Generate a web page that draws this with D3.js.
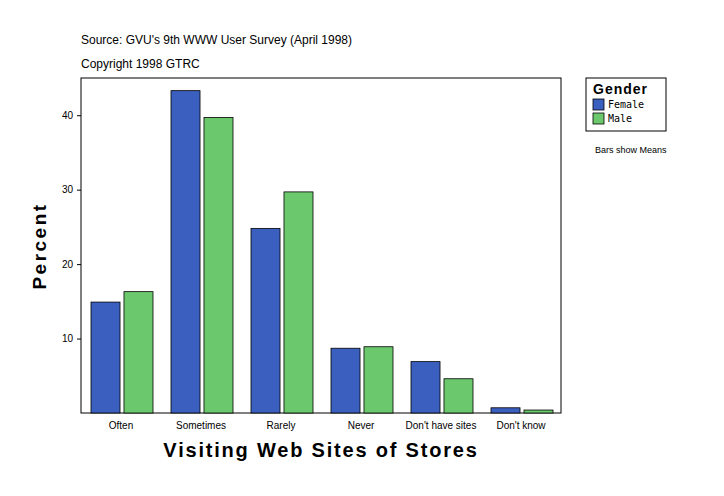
<!DOCTYPE html>
<html><head><meta charset="utf-8">
<script src="https://cdn.jsdelivr.net/npm/d3@7"></script>
<style>body{margin:0;background:#fff}text{font-family:Arial,"Liberation Sans",sans-serif}text.mono{font-family:"DejaVu Sans Mono","Liberation Mono",monospace}</style>
</head><body><svg id="chart" width="724" height="496"></svg>
<script>
const categories = ["Often", "Sometimes", "Rarely", "Never", "Don't have sites", "Don't know"];
const series = ["Female", "Male"];
const female = [14.9, 43.3, 24.8, 8.7, 6.9, 0.7];
const male = [16.3, 39.7, 29.7, 8.9, 4.6, 0.4];
const yTicks = [10, 20, 30, 40];
const colors = ["#3a5fbf", "#6cc86c"];

const svg = d3.select("#chart");
const margin = { left: 81, top: 78, right: 163, bottom: 83 };
const innerWidth = 724 - margin.left - margin.right;
const innerHeight = 496 - margin.top - margin.bottom;
const g = svg.append("g").attr("transform", `translate(${margin.left},${margin.top})`);

const xScale = d3.scaleBand().domain(categories).range([0, innerWidth]);
const xInner = d3.scaleBand().domain(series).range([10, 72]).paddingInner(0.12);
const yScale = d3.scaleLinear().domain([0, 45]).range([innerHeight, 0]);

g.append("rect").attr("width", innerWidth).attr("height", innerHeight)
  .attr("fill", "#fff").attr("stroke", "#000");

const data = categories.map((c, i) => ({ c, vals: [female[i], male[i]] }));
g.selectAll("g.grp").data(data).enter().append("g")
  .attr("transform", d => `translate(${xScale(d.c)},0)`)
  .selectAll("rect").data(d => d.vals.map((v, j) => ({ v, s: series[j], j })))
  .enter().append("rect")
  .attr("x", d => xInner(d.s)).attr("width", xInner.bandwidth())
  .attr("y", d => yScale(d.v)).attr("height", d => innerHeight - yScale(d.v))
  .attr("fill", d => colors[d.j]).attr("stroke", "#000").attr("stroke-width", 0.8);

const yAxis = d3.axisLeft(yScale).tickValues(yTicks).tickSize(4).tickPadding(4);
g.append("g").call(yAxis).call(a => a.select(".domain").remove())
  .selectAll("text").attr("font-size", 10);
const xAxis = d3.axisBottom(xScale).tickSize(0).tickPadding(9);
g.append("g").attr("transform", `translate(0,${innerHeight})`).call(xAxis)
  .call(a => a.select(".domain").remove())
  .selectAll("text").attr("font-size", 10);

svg.append("text").attr("x", 81).attr("y", 44).attr("font-size", 12)
  .text("Source: GVU's 9th WWW User Survey (April 1998)");
svg.append("text").attr("x", 81).attr("y", 68).attr("font-size", 12)
  .text("Copyright 1998 GTRC");
svg.append("text").attr("x", 321).attr("y", 457).attr("text-anchor", "middle")
  .attr("font-size", 20).attr("font-weight", "bold").attr("letter-spacing", 1.8)
  .text("Visiting Web Sites of Stores");
svg.append("text").attr("transform", "translate(46,246) rotate(-90)")
  .attr("text-anchor", "middle").attr("font-size", 19).attr("font-weight", "bold")
  .attr("letter-spacing", 2.5).text("Percent");

const lg = svg.append("g").attr("transform", "translate(586,78)");
lg.append("rect").attr("width", 80).attr("height", 53).attr("fill", "#fff").attr("stroke", "#000");
lg.append("text").attr("x", 7).attr("y", 16).attr("font-size", 14).attr("font-weight", "bold")
  .attr("letter-spacing", 1).text("Gender");
series.forEach((s, i) => {
  lg.append("rect").attr("x", 7).attr("y", 21 + i * 14).attr("width", 11).attr("height", 11)
    .attr("fill", colors[i]).attr("stroke", "#000").attr("stroke-width", 0.8);
  lg.append("text").attr("class", "mono").attr("x", 22).attr("y", 30 + i * 14)
    .attr("font-size", 10).text(s);
});
svg.append("text").attr("x", 595).attr("y", 153).attr("font-size", 9).text("Bars show Means");
</script></body></html>
